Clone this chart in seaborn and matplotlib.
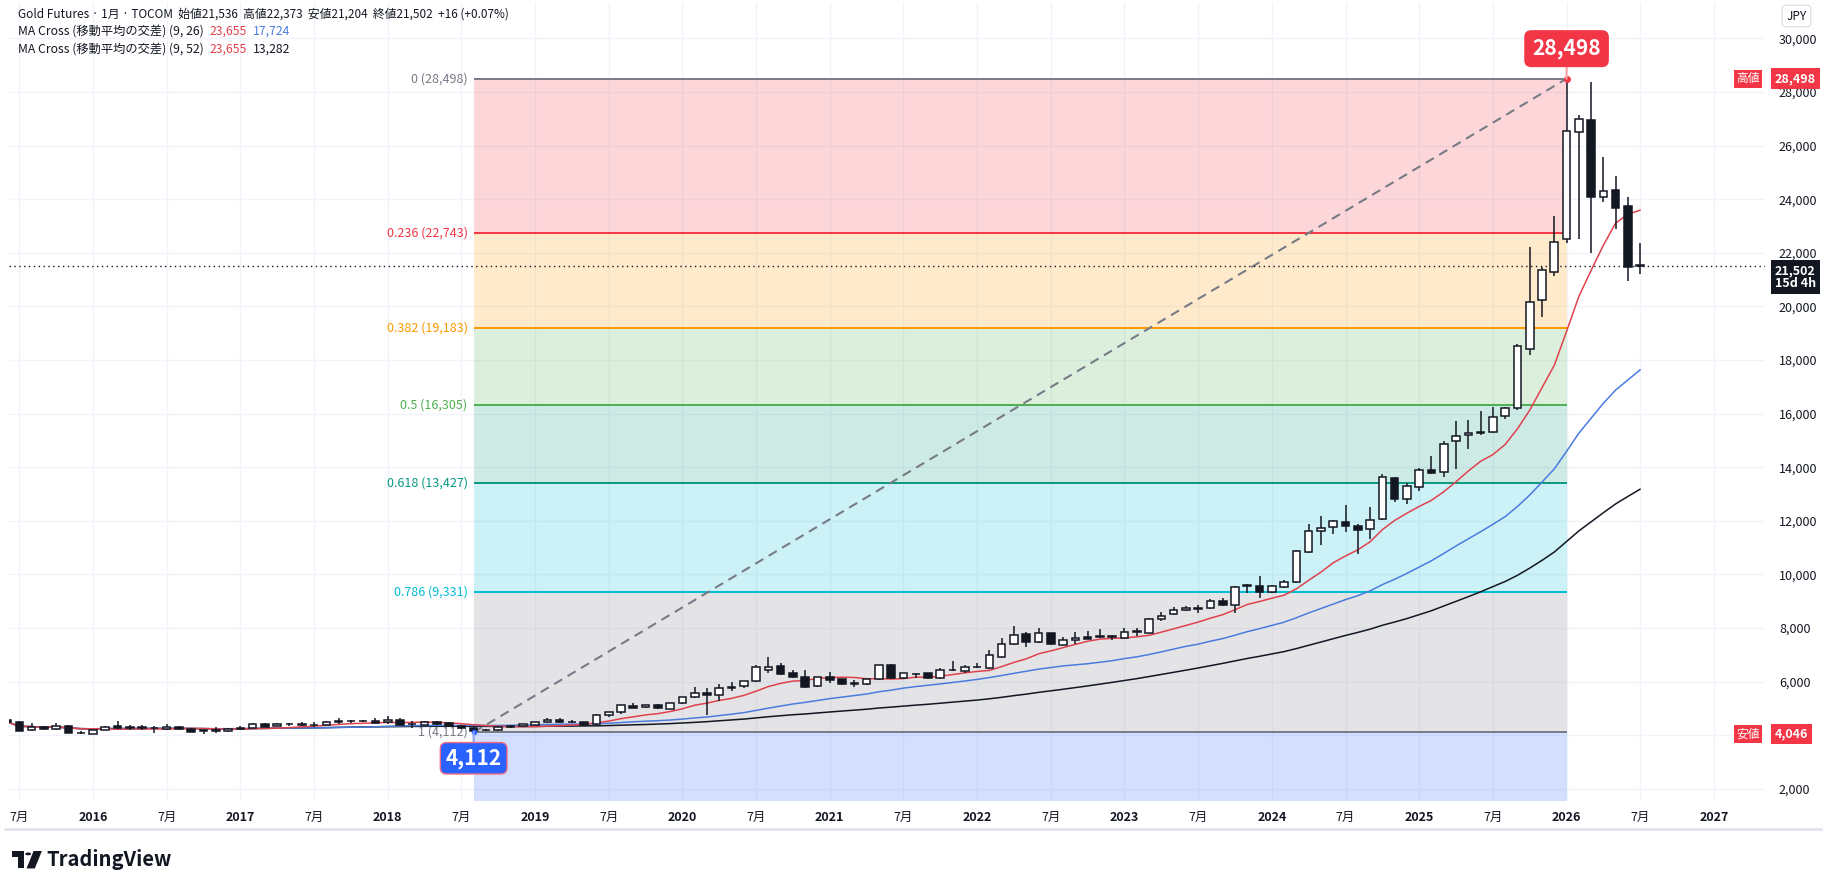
import numpy as np
import pandas as pd
import matplotlib
matplotlib.use("Agg")
import matplotlib.pyplot as plt
import matplotlib.transforms as mtransforms
from matplotlib.patches import Polygon, Circle
import seaborn as sns

# ---- monthly candles, Jun 2015 .. Jul 2026 (JPY) ----
first_month = "2015-06"
opens = [
    4560, 4506, 4185, 4290, 4222, 4358, 4100,
    4060, 4200, 4330, 4280, 4300, 4270, 4230, 4320, 4246, 4160, 4180, 4150,
    4250, 4274, 4420, 4346, 4410, 4420, 4385, 4380, 4510, 4530, 4520, 4545,
    4490, 4569, 4410, 4397, 4506, 4469, 4340, 4260, 4190, 4185, 4358, 4335,
    4397, 4484, 4582, 4490, 4484, 4409, 4740, 4857, 5093, 5043, 5130, 4994,
    5192, 5416, 5577, 5491, 5780, 5826, 6035, 6449, 6584, 6334, 6163, 5826,
    6185, 6088, 5920, 5902, 6088, 6621, 6125, 6285, 6312, 6125, 6430, 6398,
    6540, 6498, 6907, 7394, 7767, 7468, 7804, 7379, 7543, 7667, 7670, 7690,
    7617, 7890, 7828, 8327, 8525, 8660, 8715, 8760, 9010, 8849, 9560, 9558,
    9334, 9543, 9707, 10826, 11610, 11770, 11946, 11808, 11684, 12080, 13587, 12804,
    13251, 13886, 13811, 14968, 15192, 15266, 15303, 15900, 16199, 18400, 20228, 21273,
    22504, 26497, 26944, 24071, 24332, 23747, 21536,
]
highs = [
    4600, 4540, 4447, 4340, 4458, 4380, 4150,
    4210, 4360, 4533, 4400, 4380, 4330, 4408, 4350, 4260, 4200, 4300, 4260,
    4330, 4440, 4440, 4440, 4440, 4480, 4480, 4520, 4650, 4580, 4580, 4640,
    4730, 4660, 4530, 4520, 4540, 4490, 4380, 4300, 4250, 4330, 4380, 4430,
    4500, 4633, 4640, 4569, 4500, 4780, 4880, 5140, 5192, 5140, 5150, 5200,
    5430, 5800, 5763, 5902, 6000, 6040, 6610, 6909, 6685, 6436, 6436, 6180,
    6372, 6110, 6062, 6100, 6640, 6650, 6340, 6334, 6330, 6498, 6770, 6621,
    6707, 7181, 7617, 8077, 7853, 8002, 7830, 7655, 7853, 7902, 7953, 7741,
    7990, 8002, 8365, 8600, 8797, 8812, 8860, 9073, 9133, 9558, 9633, 9942,
    9606, 9792, 10900, 11882, 12181, 12031, 12591, 11882, 12505, 13737, 13647, 13400,
    13971, 14420, 14968, 15737, 15762, 16098, 16247, 16230, 18580, 22206, 21482, 23374,
    28498, 27142, 28373, 25575, 24866, 24094, 22373,
]
lows = [
    4470, 4150, 4170, 4190, 4200, 4080, 4055,
    4046, 4190, 4250, 4180, 4200, 4090, 4200, 4200, 4120, 4060, 4080, 4130,
    4200, 4260, 4290, 4330, 4340, 4340, 4320, 4370, 4430, 4470, 4490, 4440,
    4420, 4380, 4280, 4380, 4400, 4300, 4230, 4112, 4150, 4160, 4270, 4310,
    4370, 4470, 4460, 4440, 4370, 4390, 4700, 4780, 5000, 5010, 4990, 4980,
    5170, 5400, 4756, 5290, 5663, 5760, 6000, 6334, 6250, 6140, 5780, 5800,
    5962, 5880, 5812, 5880, 6070, 6100, 6110, 6125, 6110, 6110, 6400, 6312,
    6500, 6480, 6880, 7380, 7304, 7440, 7380, 7360, 7416, 7580, 7620, 7543,
    7580, 7704, 7800, 8274, 8500, 8637, 8562, 8722, 8820, 8573, 9297, 9133,
    9297, 9505, 9680, 10800, 11110, 11498, 11573, 10752, 11334, 12043, 12692, 12617,
    13102, 13758, 13625, 13923, 14692, 15192, 15266, 15789, 16150, 18177, 19594, 21146,
    22355, 22527, 22005, 23907, 22900, 20960, 21204,
]
closes = [
    4500, 4171, 4297, 4230, 4346, 4100, 4080,
    4200, 4320, 4270, 4300, 4270, 4255, 4320, 4222, 4140, 4180, 4175, 4246,
    4265, 4420, 4320, 4420, 4425, 4385, 4380, 4506, 4530, 4520, 4533, 4469,
    4560, 4397, 4430, 4494, 4420, 4330, 4260, 4171, 4215, 4309, 4297, 4409,
    4484, 4569, 4484, 4500, 4383, 4767, 4857, 5118, 5031, 5118, 5006, 5192,
    5416, 5577, 5491, 5752, 5812, 6024, 6536, 6558, 6274, 6163, 5800, 6163,
    6062, 5902, 5950, 6088, 6621, 6125, 6312, 6290, 6125, 6423, 6440, 6535,
    6555, 6984, 7394, 7730, 7480, 7804, 7416, 7543, 7617, 7604, 7690, 7670,
    7864, 7841, 8327, 8461, 8685, 8737, 8730, 9005, 8849, 9532, 9590, 9334,
    9558, 9707, 10864, 11610, 11745, 11983, 11819, 11647, 12043, 13625, 12804, 13289,
    13886, 13796, 14878, 15154, 15266, 15303, 15863, 16210, 18535, 20154, 21348, 22415,
    26534, 26982, 24071, 24295, 23683, 21486, 21502,
]

# MA cross settings (9/26 and 9/52)
ma_fast, ma_mid, ma_slow = 9, 26, 52
ma_fast_txt, ma_mid_txt, ma_slow_txt = "23,655", "17,724", "13,282"

# fib retracement drawn from the Aug 2018 low to the Jan 2026 high
fib_low, fib_high = 4112, 28498
fib_start, fib_end = "2018-08", "2026-01"
fib_levels = [0, 0.236, 0.382, 0.5, 0.618, 0.786, 1, 1.618]
fib_colors = ["#787b86", "#f23645", "#ff9800", "#4caf50", "#089981", "#00bcd4", "#787b86", "#2962ff"]

range_high, range_low = 28498, 4046
last_close = 21502
countdown = "15d 4h"

header = "Gold Futures · 1月 · TOCOM  始値21,536  高値22,373  安値21,204  終値21,502  +16 (+0.07%)"
ma_name = "MA Cross (移動平均の交差)"

# ---- frame ----
months = pd.period_range(first_month, periods=len(closes), freq="M")
df = pd.DataFrame({"open": opens, "high": highs, "low": lows, "close": closes})
df["x"] = np.arange(len(df))
df["ma_fast"] = df["close"].rolling(ma_fast, min_periods=1).mean()
df["ma_mid"] = df["close"].rolling(ma_mid, min_periods=1).mean()
df["ma_slow"] = df["close"].rolling(ma_slow, min_periods=1).mean()

def mi(label):
    return int((pd.Period(label, freq="M") - months[0]).n)

sns.set_style("white")
plt.rcParams["font.family"] = ["Noto Sans CJK JP", "DejaVu Sans"]

W, H = 1824, 890
fig = plt.figure(figsize=(W / 100, H / 100), dpi=100)
pl, pr, pt, pb = 9, 1765, 2, 800
ax = fig.add_axes([pl / W, 1 - pb / H, (pr - pl) / W, (pb - pt) / H])
ax.set_xlim(0.16, 143.16)
ax.set_ylim(1585, 31358)
for s in ax.spines.values():
    s.set_visible(False)

# grid + ticks (the 4,000 label sits under the low badge, so it is left blank)
yticks = list(range(2000, 30001, 2000))
ax.set_yticks(yticks)
ax.set_yticklabels(["" if v == 4000 else f"{v:,}" for v in yticks])
ax.yaxis.tick_right()
ax.tick_params(axis="y", length=0, pad=10, labelsize=9, labelcolor="#131722")

xt, xl = [], []
for y in range(2015, 2028):
    if y >= 2016:
        xt.append(mi(f"{y}-01")); xl.append(str(y))
    if y <= 2026:
        xt.append(mi(f"{y}-07")); xl.append("7月")
order = np.argsort(xt)
xt = [xt[k] for k in order]; xl = [xl[k] for k in order]
ax.set_xticks(xt)
ax.set_xticklabels(xl)
ax.tick_params(axis="x", length=0, pad=8, labelsize=9, labelcolor="#131722")
for lab in ax.get_xticklabels():
    if lab.get_text() != "7月":
        lab.set_fontweight("bold")
ax.grid(True, color="#f0f3fa", lw=1)
ax.set_axisbelow(True)

# fib retracement
x0, x1 = mi(fib_start), mi(fib_end)
span = fib_high - fib_low
fib_prices = [fib_high - lv * span for lv in fib_levels]
for k in range(len(fib_levels) - 1):
    ax.fill_between([x0, x1], fib_prices[k], fib_prices[k + 1], color=fib_colors[k + 1],
                    alpha=0.2, lw=0, zorder=1)
for lv, pr_, col in zip(fib_levels[:-1], fib_prices[:-1], fib_colors[:-1]):
    ax.hlines(pr_, x0, x1, color=col, lw=1.4, zorder=2)
    ax.text(x0 - 0.5, pr_, f"{lv:g} ({pr_:,.0f})", ha="right", va="center", color=col, fontsize=9, zorder=2)
ax.plot([x0, x1], [fib_low, fib_high], color="#787b86", lw=1.5, ls=(0, (4.5, 3)), zorder=2)

# moving averages
sns.lineplot(data=df, x="x", y="ma_slow", color="#131722", lw=1.1, ax=ax, zorder=3)
sns.lineplot(data=df, x="x", y="ma_mid", color="#4a7ce0", lw=1.1, ax=ax, zorder=3)
sns.lineplot(data=df, x="x", y="ma_fast", color="#e0424d", lw=1.1, ax=ax, zorder=3)

# candles
up = df["close"] >= df["open"]
ax.vlines(df["x"], df["low"], df["high"], color="#131722", lw=1.1, zorder=4)
ax.bar(df["x"], (df["close"] - df["open"]).abs(), bottom=df[["open", "close"]].min(axis=1),
       width=0.62, color=np.where(up, "white", "#131722"), edgecolor="#131722", linewidth=1.1, zorder=5)

ax.axhline(last_close, color="#131722", lw=1, ls=(0, (1, 2.5)), zorder=3)
ax.set_xlabel("")
ax.set_ylabel("")

# high / low callouts
ax.plot(x1, fib_high, "o", color="#f23645", ms=4, zorder=6)
ax.annotate(f"{fib_high:,}", xy=(x1, fib_high), xytext=(0, 30), textcoords="offset pixels",
            ha="center", va="center", fontsize=15, fontweight="bold", color="white", zorder=7,
            bbox=dict(boxstyle="round,pad=0.35,rounding_size=0.3", fc="#f23645", ec="#f23645"),
            arrowprops=dict(arrowstyle="-", color="#f7a1a8", lw=1.5, shrinkA=0, shrinkB=0))
ax.plot(x0, fib_low, "o", color="#2962ff", ms=3, zorder=6)
ax.annotate(f"{fib_low:,}", xy=(x0, fib_low), xytext=(0, -26), textcoords="offset pixels",
            ha="center", va="center", fontsize=15, fontweight="bold", color="white", zorder=7,
            bbox=dict(boxstyle="round,pad=0.25,rounding_size=0.3", fc="#2962ff", ec="#f06a85", lw=1),
            arrowprops=dict(arrowstyle="-", color="#8aa6f5", lw=1.5, shrinkA=0, shrinkB=0))

# right axis badges
tr = mtransforms.blended_transform_factory(ax.transAxes, ax.transData)
for tag, val in [("高値", range_high), ("安値", range_low)]:
    ax.text(0.9905, val, tag, transform=tr, ha="center", va="center", fontsize=8.5, color="white",
            bbox=dict(boxstyle="square,pad=0.2", fc="#f23645", ec="none"), clip_on=False, zorder=8)
    ax.text(1.0055, val, f"{val:,}", transform=tr, ha="left", va="center", fontsize=9, fontweight="bold",
            color="white", bbox=dict(boxstyle="square,pad=0.3", fc="#f23645", ec="none"), clip_on=False, zorder=8)
ax.annotate(f"{last_close:,}\n{countdown}", xy=(1.0055, last_close), xycoords=tr, xytext=(0, 2),
            textcoords="offset pixels", ha="left", va="top", fontsize=9, fontweight="bold", color="white",
            linespacing=1.0, annotation_clip=False, zorder=8,
            bbox=dict(boxstyle="square,pad=0.3", fc="#131722", ec="none"))
fig.text(1796.5 / W, 1 - 16 / H, "JPY", ha="center", va="center", fontsize=8.5, color="#131722",
         bbox=dict(boxstyle="round,pad=0.35,rounding_size=0.3", fc="white", ec="#e0e3eb"))

# legend lines (top-left)
def chain(y_px, parts, size):
    t = fig.text(17.5 / W, 1 - y_px / H, parts[0][0], color=parts[0][1], fontsize=size, va="center", ha="left")
    for s, c in parts[1:]:
        t = ax.annotate(s, xy=(1, 0.5), xycoords=t, xytext=(6, 0), textcoords="offset pixels",
                        va="center", ha="left", fontsize=size, color=c, annotation_clip=False)

chain(14, [(header, "#131722")], 8.5)
chain(31.5, [(f"{ma_name} ({ma_fast}, {ma_mid})", "#131722"), (ma_fast_txt, "#e0424d"), (ma_mid_txt, "#4a7ce0")], 8.8)
chain(49, [(f"{ma_name} ({ma_fast}, {ma_slow})", "#131722"), (ma_fast_txt, "#e0424d"), (ma_slow_txt, "#131722")], 8.8)

# bottom frame line and logo
fig.add_artist(plt.Line2D([5 / W, 1822 / W], [1 - 829 / H, 1 - 829 / H], color="#e0e3eb", lw=2))

def px(x, y):
    return (x / W, 1 - y / H)

lx, ly, s = 12, 851, 0.83
logo_bar = [(0, 0), (14, 0), (14, 21), (7, 21), (7, 7), (0, 7)]
logo_slash = [(26, 0), (36, 0), (27.5, 21), (17.5, 21)]
for poly in (logo_bar, logo_slash):
    fig.add_artist(Polygon([px(lx + u * s, ly + v * s) for u, v in poly], closed=True,
                           transform=fig.transFigure, fc="#131722", ec="none"))
fig.add_artist(Circle(px(lx + 19.5 * s, ly + 3.5 * s), radius=3.5 * s / W, transform=fig.transFigure,
                      fc="#131722", ec="none"))
fig.text(46 / W, 1 - 860 / H, "TradingView", fontsize=14.5, fontweight="bold", color="#131722", va="center")

fig.savefig("out.png", dpi=100)
